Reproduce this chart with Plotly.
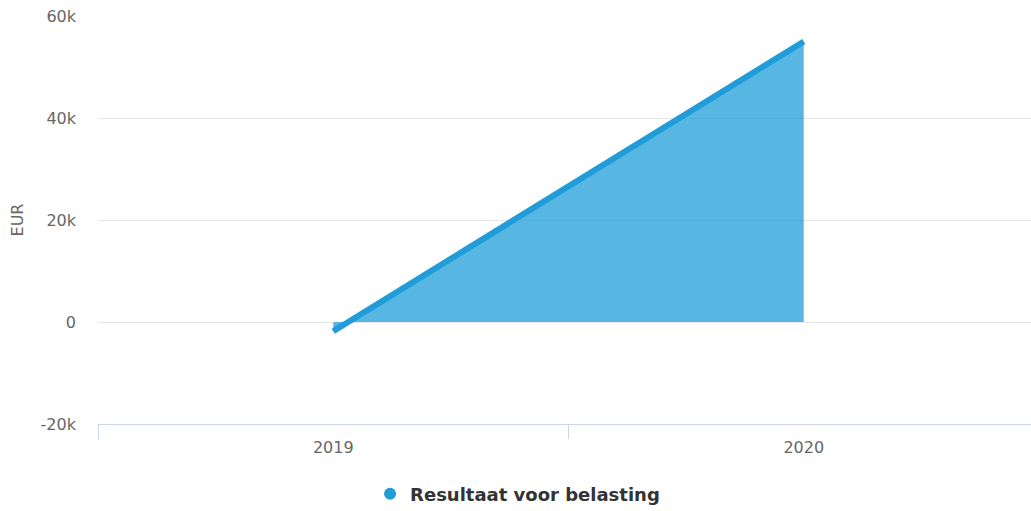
import plotly.graph_objects as go

years = ["2019", "2020"]
values = [-1800, 55000]
series_name = "Resultaat voor belasting"
y_tickvals = [-20000, 0, 20000, 40000, 60000]
y_ticktext = ["-20k", "0", "20k", "40k", "60k"]

line_color = "#209dd8"
fill_color = "rgba(32,157,216,0.75)"

fig = go.Figure()
fig.add_trace(go.Scatter(
    x=years, y=values, mode="lines", fill="tozeroy",
    line=dict(color=line_color, width=6), fillcolor=fill_color,
    showlegend=False, name=series_name,
))
fig.add_trace(go.Scatter(
    x=[None], y=[None], mode="markers", name=series_name,
    marker=dict(color=line_color, size=17, symbol="circle"),
    showlegend=True,
))

fig.update_layout(
    width=1031, height=511,
    margin=dict(l=98, r=0, t=16, b=87),
    paper_bgcolor="white", plot_bgcolor="white",
    font=dict(family="DejaVu Sans", color="#666666", size=16),
    xaxis=dict(
        type="category", range=[-0.5, 1.483],
        showgrid=False, showline=True, linecolor="#ccd6eb", linewidth=1,
        ticks="outside", tickson="boundaries", ticklen=14, tickcolor="#ccd6eb",
        tickfont=dict(size=16, color="#666666"), zeroline=False,
        ticklabelstandoff=9,
    ),
    yaxis=dict(
        range=[-20000, 60000], tickvals=y_tickvals, ticktext=y_ticktext,
        showgrid=True, gridcolor="#e6e6e6", gridwidth=1, zeroline=False,
        tickfont=dict(size=16, color="#666666"), ticklabelstandoff=21,
        ticklabeloverflow="allow",
        title=dict(text="EUR", font=dict(size=16, color="#666666"), standoff=12),
        showline=False,
    ),
    legend=dict(
        orientation="h", x=0.502, xanchor="center", xref="container",
        y=0.033, yanchor="middle", yref="container",
        font=dict(size=18, color="#333333", family="DejaVu Sans", weight="bold"),
        itemsizing="constant",
    ),
)

fig.write_html(
    "out.html",
    config={"displayModeBar": False},
    post_script="document.body.style.margin='0';document.body.style.overflow='hidden';",
)
